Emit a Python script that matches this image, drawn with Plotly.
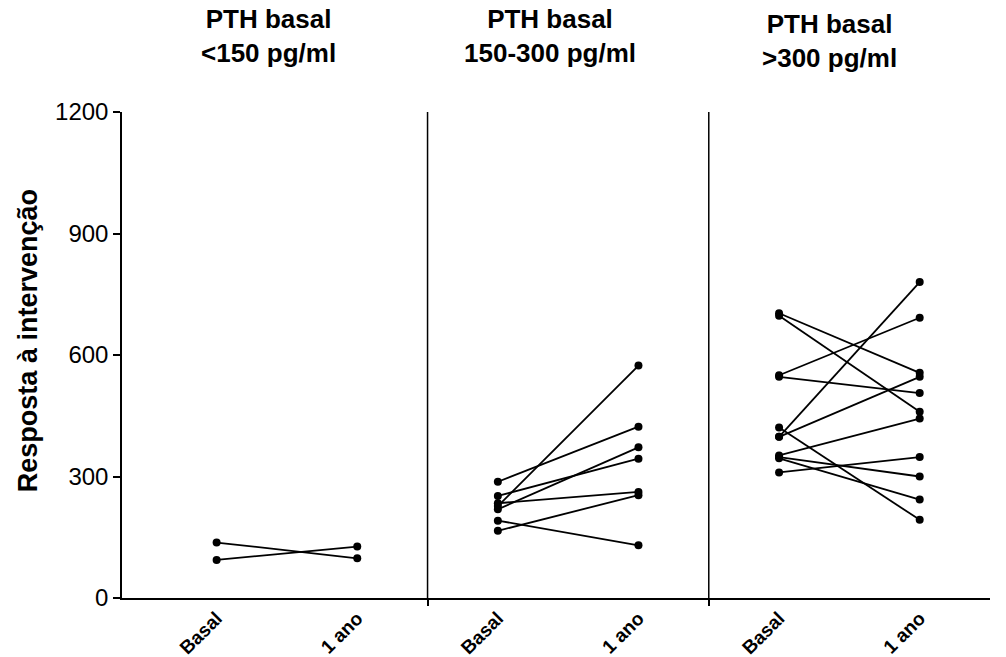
import plotly.graph_objects as go

# Data
tick_positions = [1, 2, 3, 4, 5, 6]
tick_labels = ["Basal", "1 ano", "Basal", "1 ano", "Basal", "1 ano"]
y_ticks = [0, 300, 600, 900, 1200]

panel_titles = ["PTH basal<br><150 pg/ml", "PTH basal<br>150-300 pg/ml", "PTH basal<br>>300 pg/ml"]

p1_basal = [137, 94]
p1_1ano = [98, 127]

p2_basal = [287, 252, 234, 227, 219, 191, 166]
p2_1ano = [423, 344, 262, 574, 372, 130, 254]

p3_basal = [703, 697, 550, 546, 421, 398, 398, 352, 348, 345, 310]
p3_1ano = [556, 460, 692, 506, 193, 780, 546, 443, 300, 243, 348]

panels = [(p1_basal, p1_1ano, 1, 2), (p2_basal, p2_1ano, 3, 4), (p3_basal, p3_1ano, 5, 6)]

FONT = "Liberation Sans, Arial, sans-serif"

fig = go.Figure()
for basal, ano, xb, xa in panels:
    xs, ys = [], []
    for b, a in zip(basal, ano):
        xs += [xb, xa, None]
        ys += [b, a, None]
    fig.add_trace(go.Scatter(
        x=xs, y=ys, mode="lines+markers",
        line=dict(color="black", width=1.8),
        marker=dict(color="black", size=8),
        showlegend=False, cliponaxis=False, hoverinfo="skip"))

# Panel dividers
for xd in [2.5, 4.5]:
    fig.add_shape(type="line", xref="x", yref="y", x0=xd, x1=xd, y0=0, y1=1200,
                  line=dict(color="black", width=1.5))

# Panel titles
title_x = [1.37, 3.37, 5.36]
title_y = [1.157, 1.157, 1.147]
for t, tx, ty in zip(panel_titles, title_x, title_y):
    fig.add_annotation(text="<b>" + t + "</b>", x=tx, y=ty, xref="x", yref="paper",
                       showarrow=False, xanchor="center", yanchor="middle",
                       font=dict(size=26, color="black", family=FONT))

# Y axis title
fig.add_annotation(text="<b>Resposta à intervenção</b>", x=-0.108, y=0.529,
                   xref="paper", yref="paper", showarrow=False, textangle=-90,
                   xanchor="center", yanchor="middle",
                   font=dict(size=27, color="black", family=FONT))

fig.update_layout(
    width=1006, height=657,
    margin=dict(l=122, r=15.5, t=112, b=59, autoexpand=False),
    paper_bgcolor="white", plot_bgcolor="white",
    font=dict(family=FONT, color="black"),
    xaxis=dict(
        range=[1 - 0.673, 6.5], showgrid=False, zeroline=False, automargin=False,
        showline=True, linecolor="black", linewidth=1.5,
        tickmode="array", tickvals=tick_positions,
        ticktext=["<b>" + t + "</b>" for t in tick_labels],
        ticks="", tickangle=-45, tickfont=dict(size=19, color="black", family=FONT),
        minor=dict(tickmode="array", tickvals=[2.5, 4.5], ticks="outside",
                   ticklen=6, tickwidth=1.5, tickcolor="black"),
    ),
    yaxis=dict(
        range=[0, 1200], showgrid=False, zeroline=False, automargin=False,
        showline=True, linecolor="black", linewidth=1.5,
        tickmode="array", tickvals=y_ticks,
        ticks="outside", ticklen=7, tickwidth=1.5, tickcolor="black",
        tickfont=dict(size=24, color="black", family=FONT),
    ),
)

fig.write_html("out.html")
